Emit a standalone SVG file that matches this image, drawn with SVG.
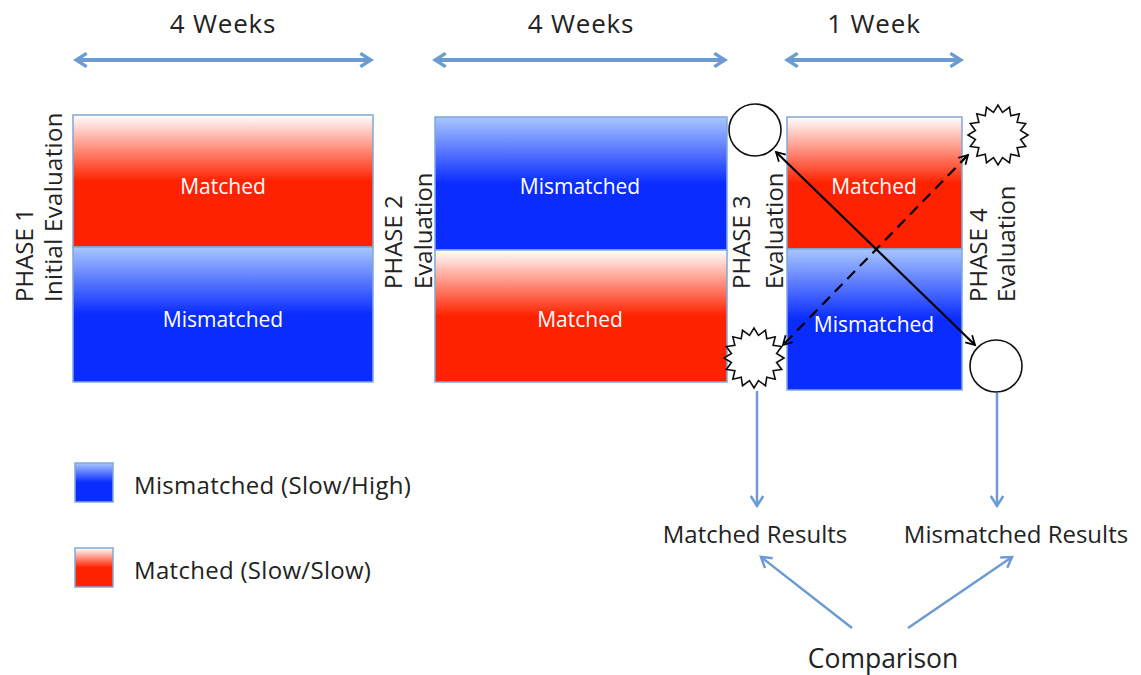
<svg xmlns="http://www.w3.org/2000/svg" width="1141" height="675" viewBox="0 0 1141 675">
<style>
.lbl{font-family:"Open Sans",Lato,sans-serif;fill:#222}
.in{font-family:"Open Sans",Lato,sans-serif;fill:#fff;font-size:21px;text-anchor:middle}
.rot{font-family:"Open Sans",Lato,sans-serif;fill:#222;font-size:24px}
.box{stroke:#7fa8d8;stroke-width:1.5}
.blue{stroke:#6b9bd1;fill:none}
.blk{stroke:#000;stroke-width:2.2;fill:none}
.shape{fill:#fff;stroke:#111;stroke-width:1.6}
</style>
<defs>
<linearGradient id="red" x1="0" y1="0" x2="0" y2="1">
<stop offset="0" stop-color="#ffffff"/>
<stop offset="0.5" stop-color="#ff2200"/>
<stop offset="1" stop-color="#ff2200"/>
</linearGradient>
<linearGradient id="blueg" x1="0" y1="0" x2="0" y2="1">
<stop offset="0" stop-color="#a9c6ff"/>
<stop offset="0.5" stop-color="#0a2cff"/>
<stop offset="1" stop-color="#0a2cff"/>
</linearGradient>
<marker id="bh" viewBox="0 0 12 12" refX="10" refY="6" markerWidth="4" markerHeight="4" orient="auto-start-reverse" markerUnits="strokeWidth">
<path d="M2,1 L10,6 L2,11" fill="none" stroke="#6b9bd1" stroke-width="2.5"/>
</marker>
<marker id="bs" viewBox="0 0 12 12" refX="10" refY="6" markerWidth="6" markerHeight="6" orient="auto-start-reverse" markerUnits="strokeWidth">
<path d="M2,1 L10,6 L2,11" fill="none" stroke="#6b9bd1" stroke-width="2"/>
</marker>
<marker id="kh" viewBox="0 0 12 12" refX="10" refY="6" markerWidth="6" markerHeight="6" orient="auto-start-reverse" markerUnits="strokeWidth">
<path d="M2,1.5 L10,6 L2,10.5" fill="none" stroke="#000" stroke-width="1.6"/>
</marker>
<polygon id="star" points="30,0 22.56,4.49 27.72,11.48 19.12,12.78 21.21,21.21 12.78,19.12 11.48,27.72 4.49,22.56 0,30 -4.49,22.56 -11.48,27.72 -12.78,19.12 -21.21,21.21 -19.12,12.78 -27.72,11.48 -22.56,4.49 -30,0 -22.56,-4.49 -27.72,-11.48 -19.12,-12.78 -21.21,-21.21 -12.78,-19.12 -11.48,-27.72 -4.49,-22.56 0,-30 4.49,-22.56 11.48,-27.72 12.78,-19.12 21.21,-21.21 19.12,-12.78 27.72,-11.48 22.56,-4.49"/>
</defs>
<rect width="1141" height="675" fill="#fff"/>

<g id="durations">
<text class="lbl" x="223" y="33" font-size="26" letter-spacing="0.8" text-anchor="middle">4 Weeks</text>
<text class="lbl" x="581" y="33" font-size="26" letter-spacing="0.8" text-anchor="middle">4 Weeks</text>
<text class="lbl" x="874" y="33" font-size="26" letter-spacing="0.8" text-anchor="middle">1 Week</text>
</g>

<g id="phase1">
<rect class="box" x="73" y="115" width="300" height="132" fill="url(#red)"/>
<rect class="box" x="73" y="247" width="300" height="135" fill="url(#blueg)"/>
<text class="in" x="223" y="194">Matched</text>
<text class="in" x="223" y="327">Mismatched</text>
<text class="rot" transform="translate(33,302) rotate(-90)">PHASE 1</text>
<text class="rot" letter-spacing="0.3" transform="translate(62,302) rotate(-90)">Initial Evaluation</text>
</g>

<g id="phase2">
<rect class="box" x="435" y="117" width="292" height="133" fill="url(#blueg)"/>
<rect class="box" x="435" y="250" width="292" height="132" fill="url(#red)"/>
<text class="in" x="580" y="194">Mismatched</text>
<text class="in" x="580" y="327">Matched</text>
<text class="rot" transform="translate(402,289) rotate(-90)">PHASE 2</text>
<text class="rot" transform="translate(432,289) rotate(-90)">Evaluation</text>
</g>

<g id="phase3">
<rect class="box" x="787" y="117" width="175" height="132" fill="url(#red)"/>
<rect class="box" x="787" y="249" width="175" height="141" fill="url(#blueg)"/>
<text class="in" x="874" y="194">Matched</text>
<text class="in" x="874" y="332">Mismatched</text>
<text class="rot" transform="translate(750,289) rotate(-90)">PHASE 3</text>
<text class="rot" transform="translate(783,289) rotate(-90)">Evaluation</text>
<text class="rot" transform="translate(987,302) rotate(-90)">PHASE 4</text>
<text class="rot" transform="translate(1015,302) rotate(-90)">Evaluation</text>
</g>

<g id="markers-shapes">
<circle class="shape" cx="755" cy="130" r="26"/>
<circle class="shape" cx="996" cy="366" r="26"/>
<use href="#star" class="shape" transform="translate(998,135)"/>
<use href="#star" class="shape" transform="translate(754,358)"/>
</g>

<g id="legend">
<rect class="box" x="75" y="463" width="38" height="39" fill="url(#blueg)"/>
<rect class="box" x="75" y="548" width="38" height="39" fill="url(#red)"/>
<text class="lbl" x="134" y="494" font-size="24" letter-spacing="0.3" fill="#333">Mismatched (Slow/High)</text>
<text class="lbl" x="134" y="579" font-size="24" letter-spacing="0.3" fill="#333">Matched (Slow/Slow)</text>
</g>

<g id="results">
<text class="lbl" x="755" y="543" font-size="24" text-anchor="middle">Matched Results</text>
<text class="lbl" x="1016" y="543" font-size="24" text-anchor="middle">Mismatched Results</text>
<text class="lbl" x="883" y="668" font-size="26.5" text-anchor="middle">Comparison</text>
</g>

<g id="connectors">
<line class="blue" x1="76" y1="60" x2="371" y2="60" stroke-width="4" marker-start="url(#bh)" marker-end="url(#bh)"/>
<line class="blue" x1="435" y1="60" x2="725" y2="60" stroke-width="4" marker-start="url(#bh)" marker-end="url(#bh)"/>
<line class="blue" x1="787" y1="60" x2="961" y2="60" stroke-width="4" marker-start="url(#bh)" marker-end="url(#bh)"/>
<line class="blk" x1="776" y1="152" x2="975" y2="345" marker-start="url(#kh)" marker-end="url(#kh)"/>
<line class="blk" x1="968" y1="155" x2="783" y2="345" stroke-dasharray="11,7" marker-start="url(#kh)" marker-end="url(#kh)"/>
<line class="blue" x1="757" y1="391" x2="757" y2="506" stroke-width="2.5" marker-end="url(#bs)"/>
<line class="blue" x1="997" y1="393" x2="997" y2="506" stroke-width="2.5" marker-end="url(#bs)"/>
<line class="blue" x1="852" y1="628" x2="761" y2="557" stroke-width="2.5" marker-end="url(#bs)"/>
<line class="blue" x1="908" y1="628" x2="1012" y2="557" stroke-width="2.5" marker-end="url(#bs)"/>
</g>
</svg>
